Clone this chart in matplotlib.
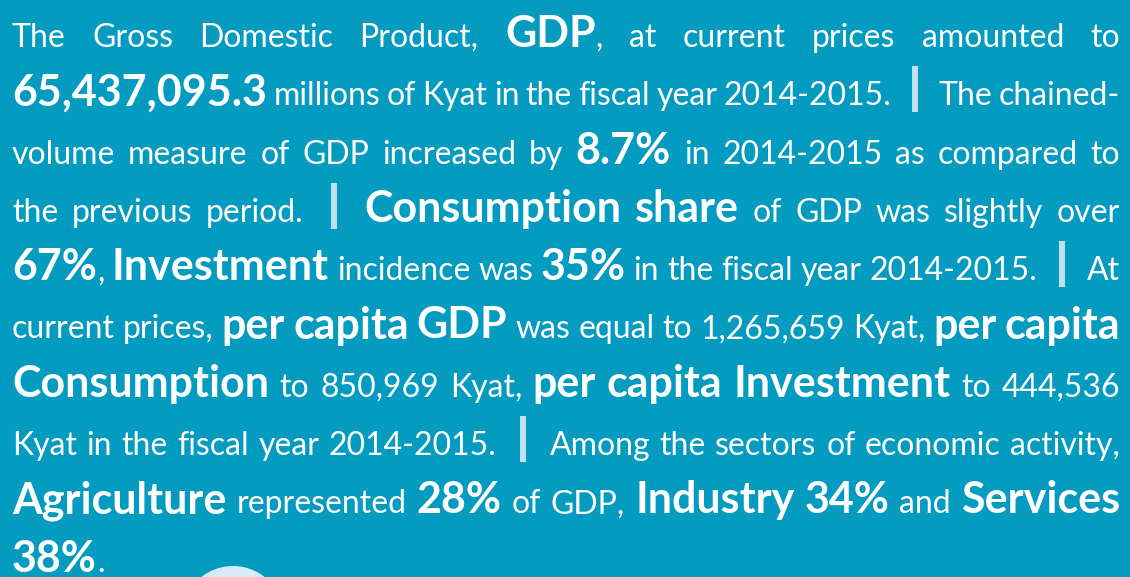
import matplotlib.pyplot as plt
from matplotlib.patches import Rectangle, Circle

# Text of the panel, one entry per line; **...** marks bold runs, | is a separator bar
lines = [
    "The Gross Domestic Product, **GDP**, at current prices amounted to",
    "**65,437,095.3** millions of Kyat in the fiscal year 2014-2015. | The chained-",
    "volume measure of GDP increased by **8.7%** in 2014-2015 as compared to",
    "the previous period. | **Consumption share** of GDP was slightly over",
    "**67%**, **Investment** incidence was **35%** in the fiscal year 2014-2015. | At",
    "current prices, **per capita GDP** was equal to 1,265,659 Kyat, **per capita**",
    "**Consumption** to 850,969 Kyat, **per capita Investment** to 444,536",
    "Kyat in the fiscal year 2014-2015. | Among the sectors of economic activity,",
    "**Agriculture** represented **28%** of GDP, **Industry 34%** and **Services**",
    "**38%**.",
]

BG = '#039BC0'
BAR = '#BFE0EC'
W, H = 1130, 577
LEFT, RIGHT = 12, 1120
TOP_BASE, STEP = 47, 58.3
FAMILY = ['Lato', 'DejaVu Sans']
SIZE_N, SIZE_B = 23, 31
BAR_W, BAR_PAD = 6, 14


def parse(line):
    words = []
    bold = False
    for w in line.split(' '):
        if w == '|':
            words.append('|')
            continue
        runs = []
        parts = w.split('**')
        for i, p in enumerate(parts):
            if i > 0:
                bold = not bold
            if p:
                runs.append((p, bold))
        words.append(runs)
    return words


fig = plt.figure(figsize=(W / 100, H / 100), dpi=100)
fig.patch.set_facecolor(BG)
ax = fig.add_axes([0, 0, 1, 1])
ax.set_xlim(0, W)
ax.set_ylim(H, 0)
ax.axis('off')
ax.set_facecolor(BG)

renderer = fig.canvas.get_renderer()


def make(txt, bold, x, y):
    return ax.text(x, y, txt, color='white', fontsize=SIZE_B if bold else SIZE_N,
                   fontweight='bold' if bold else 'normal', family=FAMILY,
                   va='baseline', ha='left')


space_w = make('a a', False, 0, 0).get_window_extent(renderer).width - \
    make('aa', False, 0, 0).get_window_extent(renderer).width
for t in list(ax.texts):
    t.remove()

for li, line in enumerate(lines):
    y = TOP_BASE + STEP * li
    words = parse(line)
    # create artists and measure
    items = []
    for w in words:
        if w == '|':
            items.append(('bar', BAR_W + 2 * BAR_PAD, None))
            continue
        arts = []
        width = 0
        for txt, b in w:
            t = make(txt, b, 0, y)
            ext = t.get_window_extent(renderer).width
            arts.append((t, ext))
            width += ext
        items.append(('word', width, arts))
    total = sum(it[1] for it in items)
    gaps = len(items) - 1
    if li == len(lines) - 1 or gaps == 0:
        gap = space_w
    else:
        gap = (RIGHT - LEFT - total) / gaps
    x = LEFT
    for kind, width, arts in items:
        if kind == 'bar':
            ax.add_patch(Rectangle((x + BAR_PAD, y - 39), BAR_W, 46, color=BAR, lw=0))
        else:
            xx = x
            for t, ext in arts:
                t.set_x(xx)
                xx += ext
        x += width + gap

ax.add_patch(Circle((233, 617), 51, color='#D6EBF3', lw=0))

fig.savefig('out.png', dpi=100, facecolor=BG)
